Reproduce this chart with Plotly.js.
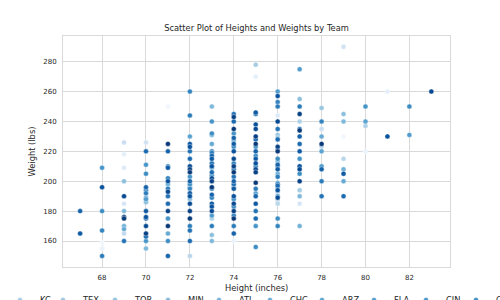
<!DOCTYPE html>
<html>
<head>
<meta charset="utf-8">
<script src="https://cdn.plot.ly/plotly-3.0.1.min.js"></script>
<style>html,body{margin:0;padding:0;background:#fff;}#chart{width:500px;height:300px;}</style>
</head>
<body>
<div id="chart"></div>
<script>
const teams = ['BAL','CWS','ANA','BOS','CLE','OAK','NYY','DET','SEA','TB','KC','TEX','TOR','MIN','ATL','CHC','ARZ','FLA','CIN','COL','HOU','LA','MLW','NYM','PHI','PIT','SD','SF','STL','WAS'];

const heights = [
  67,67,
  68,68,68,68,68,68,68,
  69,69,69,69,69,69,69,69,69,69,69,69,69,
  70,70,70,70,70,70,70,70,70,70,70,70,70,70,70,70,70,70,
  71,71,71,71,71,71,71,71,71,71,71,71,71,71,71,71,71,71,
  72,72,72,72,72,72,72,72,72,72,72,72,72,72,72,72,72,72,72,72,72,72,72,72,72,
  73,73,73,73,73,73,73,73,73,73,73,73,73,73,73,73,73,73,73,73,73,73,73,73,73,73,73,73,
  74,74,74,74,74,74,74,74,74,74,74,74,74,74,74,74,74,74,74,74,74,74,74,74,74,74,74,74,74,74,
  75,75,75,75,75,75,75,75,75,75,75,75,75,75,75,75,75,75,75,75,75,75,75,75,75,75,
  76,76,76,76,76,76,76,76,76,76,76,76,76,76,76,76,76,76,76,76,76,76,76,76,76,76,76,76,76,76,76,76,
  77,77,77,77,77,77,77,77,77,77,77,77,77,77,77,77,77,77,77,
  78,78,78,78,78,78,78,78,78,78,78,
  79,79,79,79,79,79,79,79,79,
  80,80,80,80,
  81,81,
  82,82,
  83
];
const weights = [
  180,165,
  209,196,180,167,159,155,150,
  226,218,209,200,190,185,180,176,175,170,168,165,160,
  226,220,211,205,196,194,192,189,188,186,180,176,175,170,165,163,160,155,
  250,225,220,210,209,202,200,198,195,193,190,185,180,175,170,165,160,150,
  260,244,230,225,223,220,215,210,208,206,203,200,198,196,195,192,190,188,185,180,175,170,167,160,150,
  250,240,232,231,225,220,219,217,215,212,210,209,206,204,202,200,196,195,191,189,185,183,180,177,175,170,164,160,
  245,243,240,235,232,229,227,225,223,220,215,212,210,208,206,203,200,198,196,195,190,188,185,183,180,177,175,170,165,160,
  278,270,246,245,238,235,230,228,225,223,220,217,215,212,210,208,206,199,195,192,190,185,180,175,170,156,
  260,257,253,250,244,240,235,231,229,228,223,221,220,215,213,211,210,208,205,203,199,198,197,196,194,192,190,189,187,185,175,170,
  275,255,250,245,240,235,234,230,225,220,215,210,208,205,200,194,190,185,170,
  249,240,235,230,225,223,220,210,208,200,190,
  290,245,240,230,215,208,205,200,190,
  250,240,237,220,
  260,230,
  250,231,
  260
];
const teamOf = [
  24,25,
  18,26,19,20,0,1,21,
  6,2,3,12,27,4,13,28,29,14,15,7,22,
  5,23,18,19,24,20,21,16,17,12,25,26,22,27,28,23,18,13,
  0,29,24,19,25,20,26,14,21,27,22,23,28,18,29,15,19,24,
  20,21,16,25,26,22,23,27,28,29,18,24,19,17,20,25,26,12,27,28,29,21,22,23,8,
  13,18,19,14,15,20,21,24,25,22,26,16,23,18,27,28,29,19,24,20,25,26,27,17,9,21,12,13,
  22,28,23,29,18,24,14,25,19,26,27,20,28,21,29,22,24,23,15,25,26,18,27,19,28,20,29,21,24,1,
  10,2,25,22,26,27,28,23,29,18,24,19,25,26,20,27,28,29,21,16,24,25,22,23,18,19,
  17,26,20,21,3,27,22,11,12,23,28,18,29,19,13,24,20,25,14,21,15,22,23,16,26,6,18,27,7,8,19,20,
  17,12,21,28,9,22,29,24,23,25,18,26,27,19,28,10,13,4,14,
  11,20,6,15,29,7,16,17,24,21,22,
  5,12,13,0,8,14,25,15,23,
  18,16,9,1,
  2,26,
  19,17,
  27
];

// legend entries visible in the strip below the chart (KC ... COL)
const legendTeams = ['KC','TEX','TOR','MIN','ATL','CHC','ARZ','FLA','CIN','COL'];

// matplotlib "Blues" colormap stops
const bluesStops = ['#f7fbff','#deebf7','#c6dbef','#9ecae1','#6baed6','#4292c6','#2171b5','#08519c','#08306b'];
function hex2rgb(h){return [parseInt(h.substr(1,2),16),parseInt(h.substr(3,2),16),parseInt(h.substr(5,2),16)];}
function blues(t){
  const n = bluesStops.length - 1;
  const p = Math.min(Math.max(t,0),1)*n;
  const i = Math.min(Math.floor(p), n-1);
  const f = p - i;
  const a = hex2rgb(bluesStops[i]), b = hex2rgb(bluesStops[i+1]);
  const c = a.map((v,k)=>Math.round(v+(b[k]-v)*f));
  return 'rgb('+c.join(',')+')';
}

const txt = '#262626';
const gridc = '#d9d9d9';
const legendTextX = [36.7, 83, 135, 188, 239, 290, 342, 394, 446, 496];

const layout = {
  width: 500, height: 300,
  paper_bgcolor: '#ffffff', plot_bgcolor: '#ffffff',
  margin: {l: 63, r: 50, t: 36, b: 33, autoexpand: false},
  font: {family: 'DejaVu Sans', size: 7, color: txt},
  title: {text: 'Scatter Plot of Heights and Weights by Team', font: {family: 'DejaVu Sans', size: 8.3, color: txt},
          x: 0.513, xanchor: 'center', y: 1 - 28/300, yanchor: 'middle', xref: 'container', yref: 'container'},
  xaxis: {
    range: [66.22, 83.85], tickvals: [68,70,72,74,76,78,80,82], ticks: '', ticklabelstandoff: 4,
    showgrid: true, gridcolor: gridc, gridwidth: 1, zeroline: false,
    showline: true, linecolor: gridc, linewidth: 1, mirror: true,
    tickfont: {family: 'DejaVu Sans', size: 7, color: txt}
  },
  yaxis: {
    range: [142.6, 297.2], tickvals: [160,180,200,220,240,260,280], ticks: '', ticklabelstandoff: 4,
    showgrid: true, gridcolor: gridc, gridwidth: 1, zeroline: false,
    showline: true, linecolor: gridc, linewidth: 1, mirror: true,
    tickfont: {family: 'DejaVu Sans', size: 7, color: txt},
    title: {text: 'Weight (lbs)', font: {family: 'DejaVu Sans', size: 8.3, color: txt}, standoff: 6}
  },
  annotations: [{
    text: 'Height (inches)', xref: 'paper', yref: 'paper', x: 0.5, xanchor: 'center',
    y: -(287.5 - 267) / 231, yanchor: 'middle', showarrow: false,
    font: {family: 'DejaVu Sans', size: 8.3, color: txt}
  }],
  showlegend: true
};

const traces = teams.map((tm, ti) => {
  const xs = [], ys = [];
  for (let k = 0; k < heights.length; k++) {
    if (teamOf[k] === ti) { xs.push(heights[k]); ys.push(weights[k]); }
  }
  const li = legendTeams.indexOf(tm);
  const tr = {
    type: 'scatter', mode: 'markers', name: tm, x: xs, y: ys,
    showlegend: li >= 0,
    marker: {color: blues((ti+1)/31), size: 5, line: {color: '#ffffff', width: 0.4}}
  };
  if (li >= 0) {
    const lid = li === 0 ? 'legend' : 'legend' + (li + 1);
    tr.legend = lid;
    layout[lid] = {
      orientation: 'h', xref: 'container', yref: 'container',
      x: (legendTextX[li] - 40) / 500, xanchor: 'left', y: 0.048, yanchor: 'top',
      font: {family: 'DejaVu Sans', size: 8.3, color: txt}, bgcolor: 'rgba(0,0,0,0)',
      itemwidth: 30, tracegroupgap: 0
    };
  }
  return tr;
});

Plotly.newPlot('chart', traces, layout, {displayModeBar: false, staticPlot: true});
</script>
</body>
</html>
